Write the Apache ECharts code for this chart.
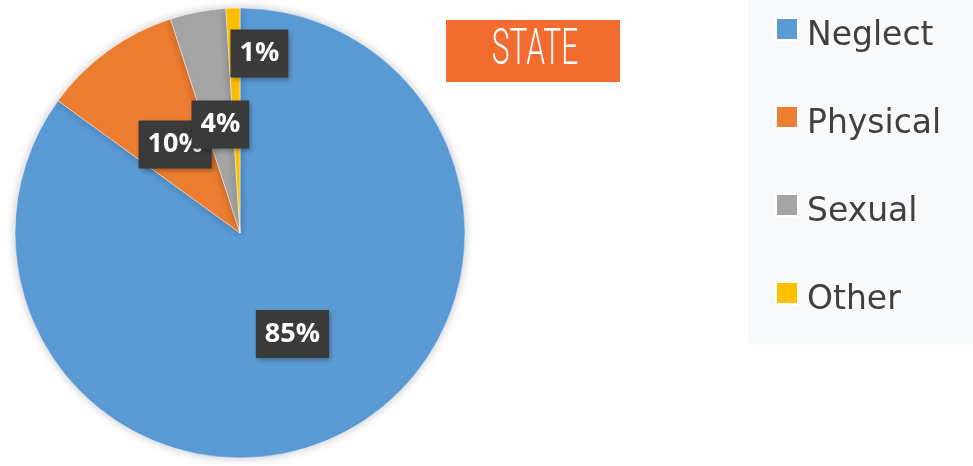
<!DOCTYPE html>
<html>
<head>
<meta charset="utf-8">
<script src="https://cdn.jsdelivr.net/npm/echarts@6/dist/echarts.min.js"></script>
<style>
html,body{margin:0;padding:0;background:#fff;}
#chart{width:973px;height:466px;}
</style>
</head>
<body>
<div id="chart"></div>
<script>
var categories = ['Neglect', 'Physical', 'Sexual', 'Other'];
var values = [85, 10, 4, 1];
var colors = ['#5B9BD5', '#ED7D31', '#A5A5A5', '#FFC000'];
var title = 'STATE';

var chart = echarts.init(document.getElementById('chart'), null, {renderer: 'canvas'});
var data = categories.map(function (c, i) {
  return {name: c, value: values[i], itemStyle: {color: colors[i]}};
});
var labelShift = [[0, -2], [3, 5], [2, 5], [23, -64]];
chart.setOption({
  animation: false,
  backgroundColor: '#ffffff',
  graphic: [
    {type: 'rect', left: 446, top: 20, shape: {width: 174, height: 62}, style: {fill: '#F26B2F'}, z: 10},
    {type: 'text', x: 535, y: 51, scaleX: 0.6, z: 11,
      style: {text: title, fill: '#ffffff', font: '300 50px Roboto', textAlign: 'center', textVerticalAlign: 'middle'}}
  ],
  legend: {
    orient: 'vertical',
    left: 748,
    top: 0,
    padding: [8, 60, 27, 27],
    backgroundColor: '#F8F9FA',
    itemWidth: 22,
    itemHeight: 22,
    itemGap: 43.5,
    selectedMode: false,
    icon: 'rect',
    formatter: function (name) { return '{e| }\n{a|' + name + '}'; },
    textStyle: {
      fontFamily: 'DejaVu Sans', fontSize: 33, color: '#404040',
      rich: {
        e: {fontSize: 10, lineHeight: 14},
        a: {fontFamily: 'DejaVu Sans', fontSize: 33, color: '#404040', lineHeight: 32, padding: [0, 0, 0, 4]}
      }
    },
    data: categories
  },
  series: [{
    type: 'pie',
    center: [240, 233],
    radius: [0, 225],
    startAngle: 90,
    clockwise: true,
    silent: true,
    itemStyle: {borderColor: '#ffffff', borderWidth: 0.5, shadowBlur: 10, shadowColor: 'rgba(0,0,0,0.22)'},
    label: {
      show: true,
      position: 'inside',
      formatter: '{c}%',
      color: '#ffffff',
      fontFamily: 'Open Sans',
      fontWeight: 'bold',
      fontSize: 27,
      lineHeight: 30,
      backgroundColor: '#3A3A3A',
      padding: [9, 9],
      shadowBlur: 5,
      shadowOffsetX: 2,
      shadowOffsetY: 2,
      shadowColor: 'rgba(0,0,0,0.35)'
    },
    labelLine: {show: false},
    labelLayout: function (p) {
      var s = labelShift[p.dataIndex];
      return {dx: s[0], dy: s[1]};
    },
    data: data
  }]
});
</script>
</body>
</html>
